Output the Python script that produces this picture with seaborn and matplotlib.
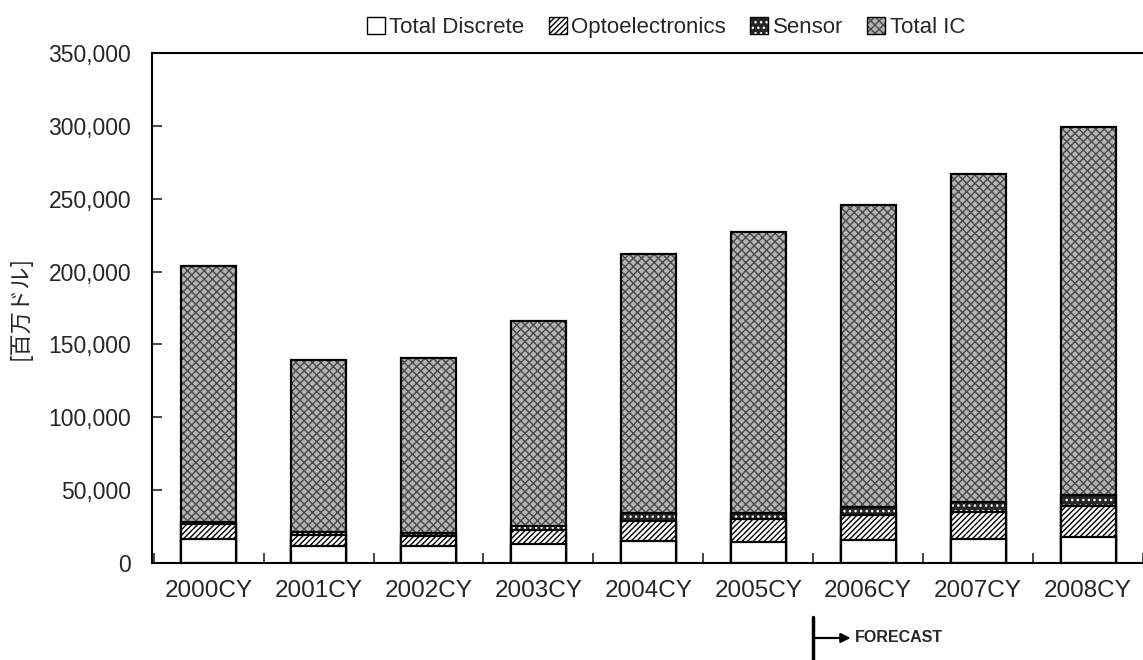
import numpy as np
import pandas as pd
import matplotlib
matplotlib.use("Agg")
import matplotlib.pyplot as plt
from matplotlib.patches import Patch
from matplotlib.legend_handler import HandlerTuple
from matplotlib.ticker import FuncFormatter
import seaborn as sns

# ---- data (millions of USD) ----
years = ["2000CY", "2001CY", "2002CY", "2003CY", "2004CY", "2005CY", "2006CY", "2007CY", "2008CY"]
total_discrete = [16200, 11800, 11800, 12800, 15000, 14600, 15800, 16400, 18000]
optoelectronics = [10500, 7400, 6700, 9800, 13800, 15300, 17100, 18800, 21000]
sensor = [1400, 2200, 2300, 2900, 5200, 4600, 5700, 6800, 7600]
total_ic = [176000, 117600, 120200, 140500, 178000, 192500, 207400, 225000, 252400]
series_names = ["Total Discrete", "Optoelectronics", "Sensor", "Total IC"]
y_ticks = [0, 50000, 100000, 150000, 200000, 250000, 300000, 350000]

sns.set_style("white")
plt.rcParams["font.family"] = ["Liberation Sans", "DejaVu Sans"]
plt.rcParams["hatch.linewidth"] = 1.0

fig = plt.figure(figsize=(11.43, 6.6), dpi=100)
ax = fig.add_axes([152 / 1143, 97 / 660, (1143 - 152) / 1143, 510 / 660])

stack = np.cumsum(np.array([total_discrete, optoelectronics, sensor, total_ic]), axis=0)

# style per series: (facecolor, hatch, hatchcolor)
styles = [
    ("white", None, "black"),
    ("white", "//////", "black"),
    ("#262626", "...", "white"),
    ("#b4b4b4", "xxxx", "#4a4a4a"),
]

handles = []
for i in range(3, -1, -1):
    df = pd.DataFrame({"year": years, "value": stack[i]})
    fc, hatch, hc = styles[i]
    sns.barplot(data=df, x="year", y="value", ax=ax, color=fc, width=0.5,
                saturation=1, edgecolor=hc, linewidth=0, hatch=hatch, errorbar=None)
    sns.barplot(data=df, x="year", y="value", ax=ax, color="black", width=0.5,
                fill=False, linewidth=1.6, errorbar=None)
    leg_fill = Patch(facecolor=fc, hatch=hatch, edgecolor=hc, linewidth=0)
    leg_edge = Patch(facecolor="none", edgecolor="black", linewidth=1.0)
    handles.insert(0, (leg_fill, leg_edge))

ax.set_xlim(-0.515, 8.433)
ax.set_ylim(0, 350000)
ax.set_yticks(y_ticks)
ax.yaxis.set_major_formatter(FuncFormatter(lambda v, p: f"{int(v):,}"))
ax.set_xlabel("")
ax.set_ylabel("[百万ドル]", family=["Noto Sans CJK JP", "DejaVu Sans"], fontsize=16, labelpad=12)

ax.set_xticks(range(len(years)))
ax.set_xticklabels(years)
ax.set_xticks(np.arange(-0.5, len(years), 1), minor=True)
ax.tick_params(axis="x", which="major", length=0, pad=12, labelsize=17.5)
ax.tick_params(axis="x", which="minor", direction="in", length=7, width=1.2, bottom=True)
ax.tick_params(axis="y", which="major", direction="in", length=7, width=1.2, pad=15,
               labelsize=16.5, left=True)

for s in ["left", "top", "bottom"]:
    ax.spines[s].set_visible(True)
    ax.spines[s].set_color("black")
    ax.spines[s].set_linewidth(1.5)
ax.spines["right"].set_visible(False)

fig.legend(handles, series_names, handler_map={tuple: HandlerTuple(ndivide=1, pad=0)},
           loc="upper center", bbox_to_anchor=(666 / 1143, 1.005), ncol=4, frameon=False,
           fontsize=16, handlelength=0.8, handleheight=0.8, handletextpad=0.2,
           columnspacing=1.1)

# forecast marker
tr = ax.get_xaxis_transform()
ax.plot([5.5, 5.5], [-0.106, -0.19], transform=tr, clip_on=False, color="black", lw=2.5)
ax.annotate("", xy=(5.84, -0.147), xytext=(5.5, -0.147), xycoords=tr, textcoords=tr,
            arrowprops=dict(arrowstyle="-|>", lw=1.6, color="black", mutation_scale=14,
                            shrinkA=0, shrinkB=0), annotation_clip=False)
ax.text(5.88, -0.147, "FORECAST", transform=tr, fontsize=11.5, fontweight="bold",
        va="center", ha="left", clip_on=False)

fig.savefig("out.png", dpi=100)
